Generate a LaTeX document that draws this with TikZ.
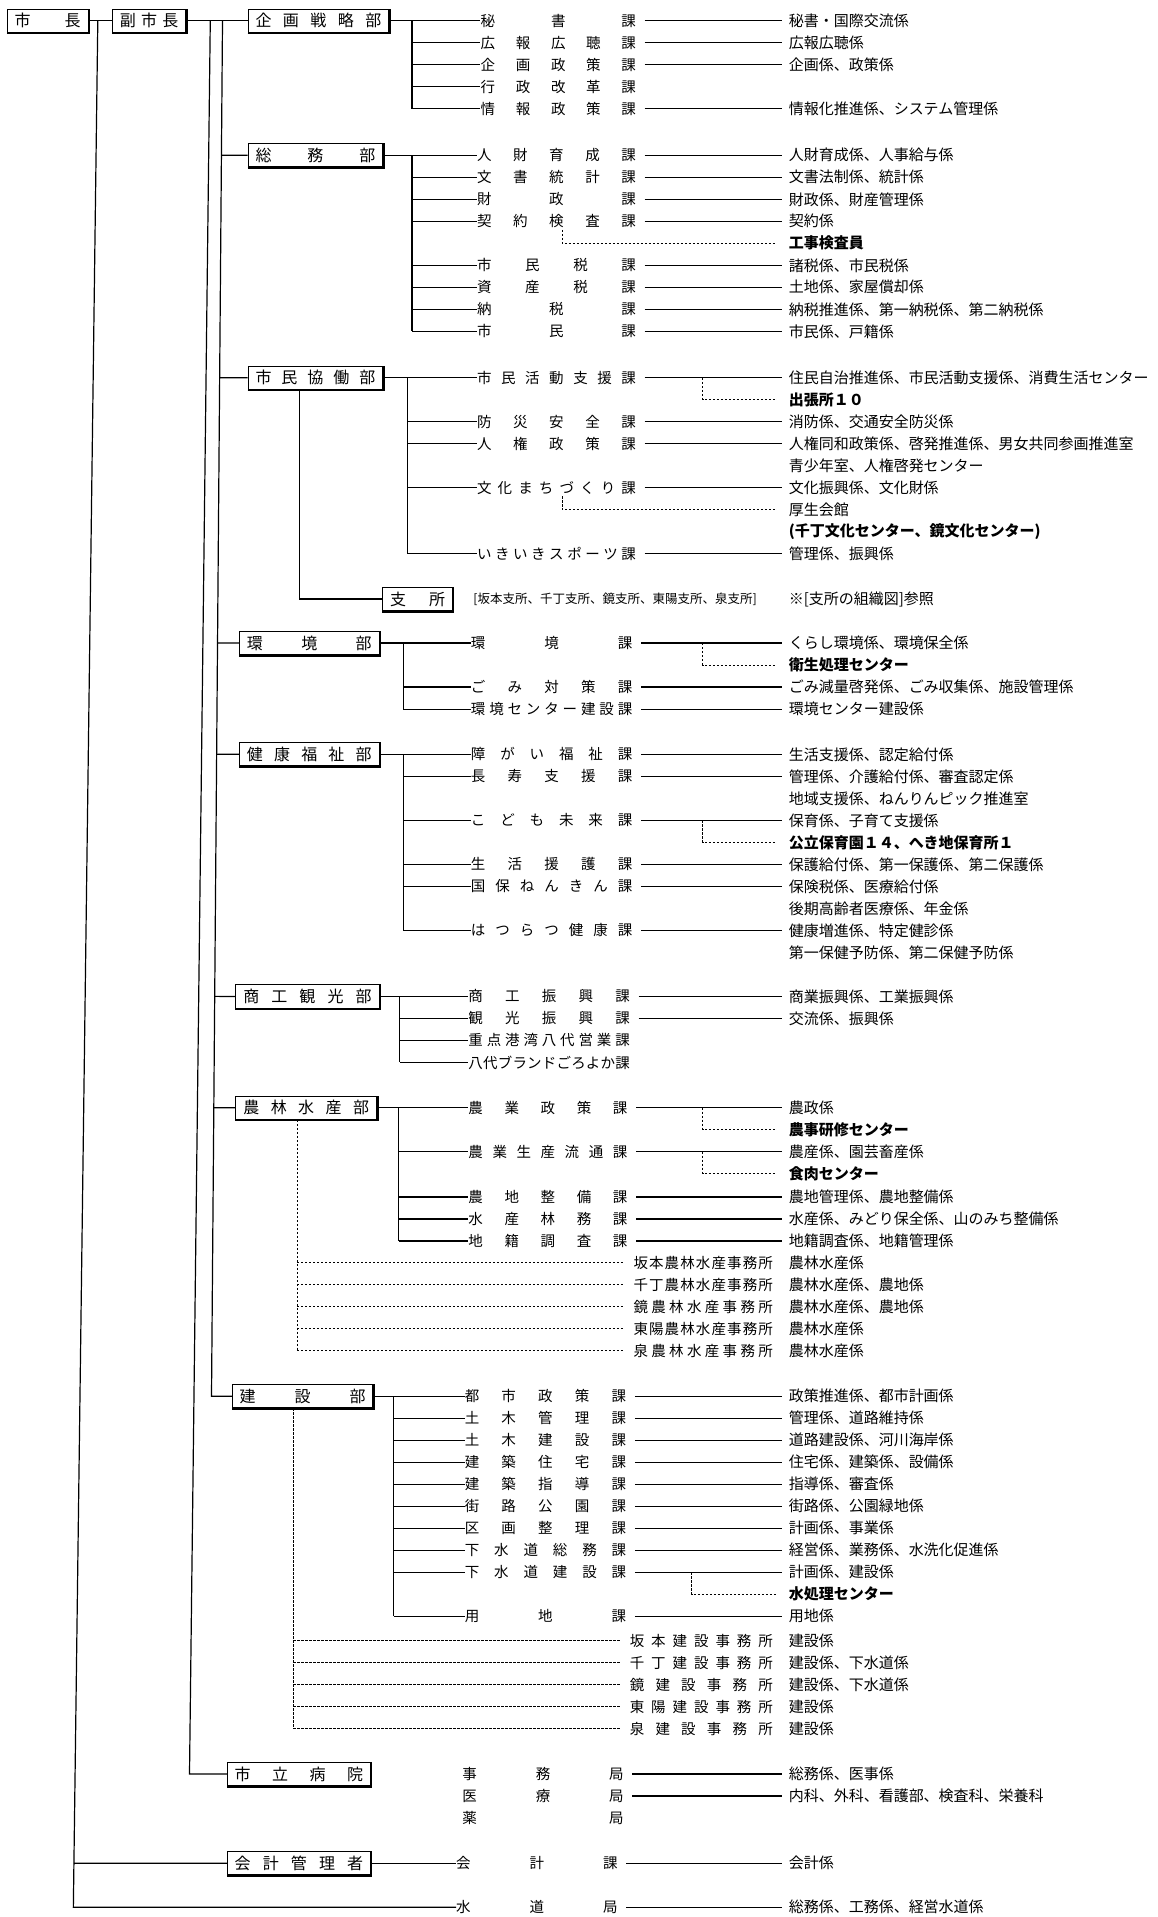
\documentclass[tikz,border=0pt]{standalone}
\usepackage{fontspec}
\newfontfamily\jp{Noto Sans CJK JP}
\usetikzlibrary{calc}
\newdimen\unitpx \unitpx=1.2228pt
\makeatletter
\def\spreadchars#1{\sp@a#1\@nil}
\def\sp@a#1{\ifx#1\@nil\else #1\expandafter\sp@b\fi}
\def\sp@b#1{\ifx#1\@nil\else\hfill #1\expandafter\sp@b\fi}
\makeatother
\tikzset{
  ln/.style={line width=1.2pt},
  dl/.style={line width=1pt, dash pattern=on 2.4pt off 1.6pt},
  box/.style={draw, line width=1pt, minimum height={19*1.2228pt}, inner sep=0pt, font=\jp\fontsize{16}{16}\selectfont},
  kn/.style={anchor=west, inner sep=0pt, font=\jp\fontsize{14.5}{14.5}\selectfont},
  kk/.style={anchor=west, inner sep=0pt, font=\jp\fontsize{15}{15}\selectfont},
  kbold/.style={anchor=west, inner sep=0pt, font=\jp\bfseries\fontsize{15}{15}\selectfont},
}
\newcommand\bx[5]{%
  \node[box, minimum width={(#3-#2)*1.2228pt}] (#1) at ({(#2+#3)/2},#4) {\makebox[\dimexpr#3\unitpx-#2\unitpx-12\unitpx\relax][s]{\spreadchars{#5}}};
  \draw[line width=1.8pt] ([yshift=-0.6pt]#1.south west) -- ([shift={(0.6pt,-0.6pt)}]#1.south east) -- ([xshift=0.6pt]#1.north east);
}
\newcommand\ka[5]{\node[kn] (#1) at (#2,#3) {\makebox[#4\unitpx][s]{\spreadchars{#5}}};}
\newcommand\kk[4]{\node[kk] (#1) at (#2,#3) {#4};}
\newcommand\kb[4]{\node[kbold] (#1) at (#2,#3) {#4};}
\newcommand\kl[2]{\draw[ln] ($(#1.east)+(7,0)$) -- ($(#1.east -| #2.west)+(-5,0)$);}
\newcommand\br[2]{\draw[ln] (#1 |- #2.west) -- (#2.west);}
\newcommand\dsub[3]{\draw[dl] (#1,#2) |- ($(#3.west)+(-10,0)$);}
\begin{document}
\begin{tikzpicture}[x=1.2228pt,y=-1.2228pt]
\useasboundingbox (0,0) rectangle (947,1568);
\fill[white] (0,0) rectangle (947,1568);

% ---- 建設事務所 rows (placed first)
\ka{ho1}{515}{1342}{117}{坂本建設事務所}
\ka{ho2}{515}{1360}{117}{千丁建設事務所}
\ka{ho3}{515}{1378}{117}{鏡建設事務所}
\ka{ho4}{515}{1396}{117}{東陽建設事務所}
\ka{ho5}{515}{1414}{117}{泉建設事務所}
\kk{gho1}{645}{1342}{建設係}
\kk{gho2}{645}{1360}{建設係、下水道係}
\kk{gho3}{645}{1378}{建設係、下水道係}
\kk{gho4}{645}{1396}{建設係}
\kk{gho5}{645}{1414}{建設係}

% ---- top
\bx{mayor}{6}{72}{17}{市長}
\bx{vm}{92}{152}{17}{副市長}
\draw[ln] (mayor.east) -- (vm.west);

% ---- 企画戦略部
\bx{A}{203}{318}{17}{企画戦略部}
\draw[ln] (vm.east) -- (A.west);
\ka{a1}{393}{17}{127}{秘書課}
\ka{a2}{393}{35}{127}{広報広聴課}
\ka{a3}{393}{53}{127}{企画政策課}
\ka{a4}{393}{71}{127}{行政改革課}
\ka{a5}{393}{89}{127}{情報政策課}
\kk{ga1}{645}{17}{秘書・国際交流係}
\kk{ga2}{645}{35}{広報広聴係}
\kk{ga3}{645}{53}{企画係、政策係}
\kk{ga5}{645}{89}{情報化推進係、システム管理係}
\draw[ln] (A.east) -- (a1.west);
\coordinate (Ab) at (337,17);
\draw[ln] (Ab) -- (Ab |- a5.west);
\br{Ab}{a2}\br{Ab}{a3}\br{Ab}{a4}\br{Ab}{a5}
\kl{a1}{ga1}\kl{a2}{ga2}\kl{a3}{ga3}\kl{a5}{ga5}

% ---- 総務部
\bx{B}{203}{313}{127}{総務部}
\ka{b1}{390}{127}{130}{人財育成課}
\ka{b2}{390}{145}{130}{文書統計課}
\ka{b3}{390}{163}{130}{財政課}
\ka{b4}{390}{181}{130}{契約検査課}
\ka{b5}{390}{217}{130}{市民税課}
\ka{b6}{390}{235}{130}{資産税課}
\ka{b7}{390}{253}{130}{納税課}
\ka{b8}{390}{271}{130}{市民課}
\kk{gb1}{645}{127}{人財育成係、人事給与係}
\kk{gb2}{645}{145}{文書法制係、統計係}
\kk{gb3}{645}{163}{財政係、財産管理係}
\kk{gb4}{645}{181}{契約係}
\kb{gb4x}{645}{199}{工事検査員}
\kk{gb5}{645}{217}{諸税係、市民税係}
\kk{gb6}{645}{235}{土地係、家屋償却係}
\kk{gb7}{645}{253}{納税推進係、第一納税係、第二納税係}
\kk{gb8}{645}{271}{市民係、戸籍係}
\draw[ln] (B.east) -- (b1.west);
\coordinate (Bb) at (337,127);
\draw[ln] (Bb) -- (Bb |- b8.west);
\br{Bb}{b2}\br{Bb}{b3}\br{Bb}{b4}\br{Bb}{b5}\br{Bb}{b6}\br{Bb}{b7}\br{Bb}{b8}
\kl{b1}{gb1}\kl{b2}{gb2}\kl{b3}{gb3}\kl{b4}{gb4}\kl{b5}{gb5}\kl{b6}{gb6}\kl{b7}{gb7}\kl{b8}{gb8}
\dsub{460}{188}{gb4x}

% ---- 市民協働部
\bx{C}{203}{313}{309}{市民協働部}
\ka{c1}{390}{309}{130}{市民活動支援課}
\ka{c2}{390}{345}{130}{防災安全課}
\ka{c3}{390}{363}{130}{人権政策課}
\ka{c4}{390}{399}{130}{文化まちづくり課}
\ka{c5}{390}{453}{130}{いきいきスポーツ課}
\kk{gc1}{645}{309}{住民自治推進係、市民活動支援係、消費生活センター}
\kb{gc1x}{645}{327}{出張所１０}
\kk{gc2}{645}{345}{消防係、交通安全防災係}
\kk{gc3}{645}{363}{人権同和政策係、啓発推進係、男女共同参画推進室}
\kk{gc3x}{645}{381}{青少年室、人権啓発センター}
\kk{gc4}{645}{399}{文化振興係、文化財係}
\kk{gc4x}{645}{417}{厚生会館}
\kb{gc4y}{645}{435}{(千丁文化センター、鏡文化センター)}
\kk{gc5}{645}{453}{管理係、振興係}
\draw[ln] (C.east) -- (c1.west);
\coordinate (Cb) at (333,309);
\draw[ln] (Cb) -- (Cb |- c5.west);
\br{Cb}{c2}\br{Cb}{c3}\br{Cb}{c4}\br{Cb}{c5}
\kl{c1}{gc1}\kl{c2}{gc2}\kl{c3}{gc3}\kl{c4}{gc4}\kl{c5}{gc5}
\dsub{575}{309}{gc1x}
\dsub{460}{406}{gc4x}
% 支所
\bx{S}{313}{370}{490}{支所}
\draw[ln] ($(C.south west)!{(245-203)/(313-203)}!(C.south east)$) |- (S.west);
\node[kk, font=\jp\fontsize{12.5}{12.5}\selectfont] (st) at (387,490) {[坂本支所、千丁支所、鏡支所、東陽支所、泉支所]};
\kk{sr}{645}{490}{※[支所の組織図]参照}

% ---- 環境部
\bx{D}{196}{310}{526}{環境部}
\ka{d1}{385}{526}{132}{環境課}
\ka{d2}{385}{562}{132}{ごみ対策課}
\ka{d3}{385}{580}{132}{環境センター建設課}
\kk{gd1}{645}{526}{くらし環境係、環境保全係}
\kb{gd1x}{645}{544}{衛生処理センター}
\kk{gd2}{645}{562}{ごみ減量啓発係、ごみ収集係、施設管理係}
\kk{gd3}{645}{580}{環境センター建設係}
\draw[ln] (D.east) -- (d1.west);
\coordinate (Db) at (330,526);
\draw[ln] (Db) -- (Db |- d3.west);
\br{Db}{d2}\br{Db}{d3}
\kl{d1}{gd1}\kl{d2}{gd2}\kl{d3}{gd3}
\dsub{575}{526}{gd1x}

% ---- 健康福祉部
\bx{E}{196}{310}{617}{健康福祉部}
\ka{e1}{385}{617}{132}{障がい福祉課}
\ka{e2}{385}{635}{132}{長寿支援課}
\ka{e3}{385}{671}{132}{こども未来課}
\ka{e4}{385}{707}{132}{生活援護課}
\ka{e5}{385}{725}{132}{国保ねんきん課}
\ka{e6}{385}{761}{132}{はつらつ健康課}
\kk{ge1}{645}{617}{生活支援係、認定給付係}
\kk{ge2}{645}{635}{管理係、介護給付係、審査認定係}
\kk{ge2x}{645}{653}{地域支援係、ねんりんピック推進室}
\kk{ge3}{645}{671}{保育係、子育て支援係}
\kb{ge3x}{645}{689}{公立保育園１４、へき地保育所１}
\kk{ge4}{645}{707}{保護給付係、第一保護係、第二保護係}
\kk{ge5}{645}{725}{保険税係、医療給付係}
\kk{ge5x}{645}{743}{後期高齢者医療係、年金係}
\kk{ge6}{645}{761}{健康増進係、特定健診係}
\kk{ge6x}{645}{779}{第一保健予防係、第二保健予防係}
\draw[ln] (E.east) -- (e1.west);
\coordinate (Eb) at (330,617);
\draw[ln] (Eb) -- (Eb |- e6.west);
\br{Eb}{e2}\br{Eb}{e3}\br{Eb}{e4}\br{Eb}{e5}\br{Eb}{e6}
\kl{e1}{ge1}\kl{e2}{ge2}\kl{e3}{ge3}\kl{e4}{ge4}\kl{e5}{ge5}\kl{e6}{ge6}
\dsub{575}{671}{ge3x}

% ---- 商工観光部
\bx{F}{193}{310}{815}{商工観光部}
\ka{f1}{383}{815}{132}{商工振興課}
\ka{f2}{383}{833}{132}{観光振興課}
\ka{f3}{383}{851}{132}{重点港湾八代営業課}
\ka{f4}{383}{869}{132}{八代ブランドごろよか課}
\kk{gf1}{645}{815}{商業振興係、工業振興係}
\kk{gf2}{645}{833}{交流係、振興係}
\draw[ln] (F.east) -- (f1.west);
\coordinate (Fb) at (327,815);
\draw[ln] (Fb) -- (Fb |- f4.west);
\br{Fb}{f2}\br{Fb}{f3}\br{Fb}{f4}
\kl{f1}{gf1}\kl{f2}{gf2}

% ---- 農林水産部
\bx{G}{193}{308}{906}{農林水産部}
\ka{g1}{383}{906}{130}{農業政策課}
\ka{g2}{383}{942}{130}{農業生産流通課}
\ka{g3}{383}{979}{130}{農地整備課}
\ka{g4}{383}{997}{130}{水産林務課}
\ka{g5}{383}{1015}{130}{地籍調査課}
\kk{gg1}{645}{906}{農政係}
\kb{gg1x}{645}{924}{農事研修センター}
\kk{gg2}{645}{942}{農産係、園芸畜産係}
\kb{gg2x}{645}{960}{食肉センター}
\kk{gg3}{645}{979}{農地管理係、農地整備係}
\kk{gg4}{645}{997}{水産係、みどり保全係、山のみち整備係}
\kk{gg5}{645}{1015}{地籍調査係、地籍管理係}
\draw[ln] (G.east) -- (g1.west);
\coordinate (Gb) at (326,906);
\draw[ln] (Gb) -- (Gb |- g5.west);
\br{Gb}{g2}\br{Gb}{g3}\br{Gb}{g4}\br{Gb}{g5}
\kl{g1}{gg1}\kl{g2}{gg2}\kl{g3}{gg3}\kl{g4}{gg4}\kl{g5}{gg5}
\dsub{575}{906}{gg1x}
\dsub{575}{942}{gg2x}
\ka{go1}{518}{1033}{114}{坂本農林水産事務所}
\ka{go2}{518}{1051}{114}{千丁農林水産事務所}
\ka{go3}{518}{1069}{114}{鏡農林水産事務所}
\ka{go4}{518}{1087}{114}{東陽農林水産事務所}
\ka{go5}{518}{1105}{114}{泉農林水産事務所}
\kk{ggo1}{645}{1033}{農林水産係}
\kk{ggo2}{645}{1051}{農林水産係、農地係}
\kk{ggo3}{645}{1069}{農林水産係、農地係}
\kk{ggo4}{645}{1087}{農林水産係}
\kk{ggo5}{645}{1105}{農林水産係}
\coordinate (Gd) at ($(G.south west)!{(243-193)/(308-193)}!(G.south east)$);
\draw[dl] (Gd) -- (Gd |- go5.west);
\foreach \n in {go1,go2,go3,go4,go5} \draw[dl] (Gd |- \n.west) -- ($(\n.west)+(-8,0)$);

% ---- 建設部
\bx{H}{190}{305}{1142}{建設部}
\ka{h1}{380}{1142}{132}{都市政策課}
\ka{h2}{380}{1160}{132}{土木管理課}
\ka{h3}{380}{1178}{132}{土木建設課}
\ka{h4}{380}{1196}{132}{建築住宅課}
\ka{h5}{380}{1214}{132}{建築指導課}
\ka{h6}{380}{1232}{132}{街路公園課}
\ka{h7}{380}{1250}{132}{区画整理課}
\ka{h8}{380}{1268}{132}{下水道総務課}
\ka{h9}{380}{1286}{132}{下水道建設課}
\ka{h10}{380}{1322}{132}{用地課}
\kk{gh1}{645}{1142}{政策推進係、都市計画係}
\kk{gh2}{645}{1160}{管理係、道路維持係}
\kk{gh3}{645}{1178}{道路建設係、河川海岸係}
\kk{gh4}{645}{1196}{住宅係、建築係、設備係}
\kk{gh5}{645}{1214}{指導係、審査係}
\kk{gh6}{645}{1232}{街路係、公園緑地係}
\kk{gh7}{645}{1250}{計画係、事業係}
\kk{gh8}{645}{1268}{経営係、業務係、水洗化促進係}
\kk{gh9}{645}{1286}{計画係、建設係}
\kb{gh9x}{645}{1304}{水処理センター}
\kk{gh10}{645}{1322}{用地係}
\draw[ln] (H.east) -- (h1.west);
\coordinate (Hb) at (322,1142);
\draw[ln] (Hb) -- (Hb |- h10.west);
\br{Hb}{h2}\br{Hb}{h3}\br{Hb}{h4}\br{Hb}{h5}\br{Hb}{h6}\br{Hb}{h7}\br{Hb}{h8}\br{Hb}{h9}\br{Hb}{h10}
\kl{h1}{gh1}\kl{h2}{gh2}\kl{h3}{gh3}\kl{h4}{gh4}\kl{h5}{gh5}\kl{h6}{gh6}\kl{h7}{gh7}\kl{h8}{gh8}\kl{h9}{gh9}\kl{h10}{gh10}
\dsub{566}{1286}{gh9x}
\coordinate (Hd) at ($(H.south west)!{(240-190)/(305-190)}!(H.south east)$);
\draw[dl] (Hd) -- (Hd |- ho5.west);
\foreach \n in {ho1,ho2,ho3,ho4,ho5} \draw[dl] (Hd |- \n.west) -- ($(\n.west)+(-8,0)$);

% ---- 市立病院
\bx{I}{186}{303}{1451}{市立病院}
\ka{i1}{378}{1451}{132}{事務局}
\ka{i2}{378}{1469}{132}{医療局}
\ka{i3}{378}{1487}{132}{薬局}
\kk{gi1}{645}{1451}{総務係、医事係}
\kk{gi2}{645}{1469}{内科、外科、看護部、検査科、栄養科}
\kl{i1}{gi1}\kl{i2}{gi2}

% ---- 会計管理者
\bx{J}{186}{303}{1524}{会計管理者}
\ka{j1}{373}{1524}{132}{会計課}
\kk{gj1}{645}{1524}{会計係}
\draw[ln] (J.east) -- (j1.west);
\kl{j1}{gj1}

% ---- 水道局
\ka{w1}{373}{1560}{132}{水道局}
\kk{gw1}{645}{1560}{総務係、工務係、経営水道係}
\kl{w1}{gw1}

% ---- trunk lines
\coordinate (mt) at (80,17);
\coordinate (mb) at (60,1560);
\draw[ln] (mt) -- (mb) -- (w1.west);
\draw[ln] ($(mt)!{(1524-17)/1543}!(mb)$) -- (J.west);
\coordinate (vaT) at (182,17);
\coordinate (vaB) at (173,1142);
\draw[ln] (vaT) -- (vaB) -- (H.west);
\foreach \b/\yy in {B/127,C/309,D/526,E/617,F/815,G/906}
  \draw[ln] ($(vaT)!{(\yy-17)/1125}!(vaB)$) -- (\b.west);
\coordinate (vbT) at (172,17);
\coordinate (vbB) at (155,1451);
\draw[ln] (vbT) -- (vbB) -- (I.west);
\end{tikzpicture}
\end{document}
